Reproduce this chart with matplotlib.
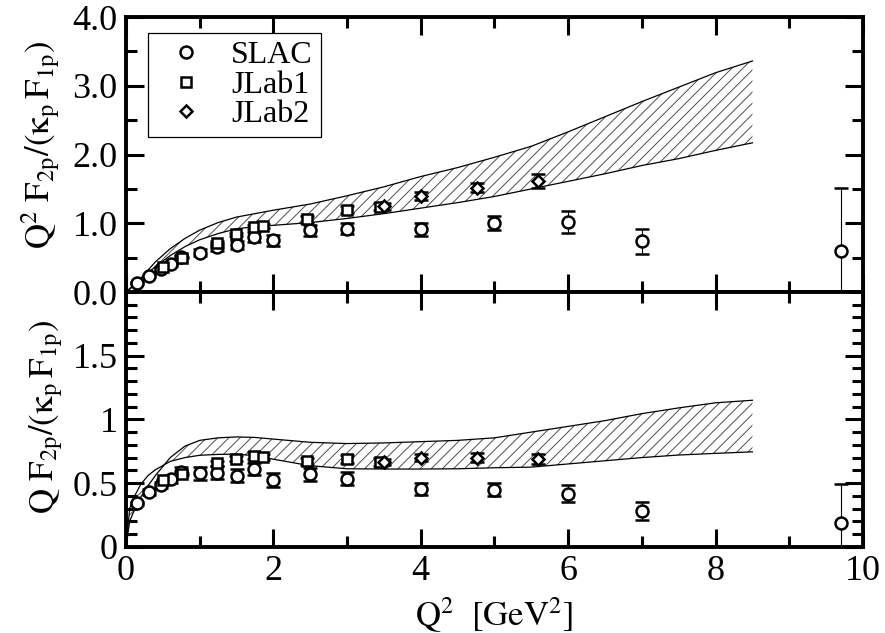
import numpy as np
import matplotlib
matplotlib.use("Agg")
import matplotlib.pyplot as plt
from matplotlib.lines import Line2D
from matplotlib.ticker import MultipleLocator, FixedFormatter, FixedLocator

plt.rcParams["font.family"] = ["Liberation Serif", "DejaVu Serif"]
plt.rcParams["mathtext.fontset"] = "stix"
plt.rcParams["hatch.linewidth"] = 0.7

# SLAC data
q2_slac = [0.15, 0.31, 0.47, 0.61, 0.75, 1.0, 1.24, 1.5, 1.74, 2.0, 2.5, 3.0, 4.0, 5.0, 6.0, 7.0, 9.7]
top_slac = [0.13, 0.23, 0.34, 0.41, 0.51, 0.57, 0.65, 0.68, 0.80, 0.75, 0.90, 0.92, 0.91, 1.00, 1.02, 0.74, 0.59]
top_slac_err = [0.01, 0.015, 0.02, 0.03, 0.035, 0.05, 0.06, 0.06, 0.07, 0.08, 0.08, 0.08, 0.09, 0.10, 0.165, 0.18, 0.92]
bot_slac = [0.34, 0.43, 0.485, 0.533, 0.585, 0.575, 0.582, 0.558, 0.61, 0.526, 0.568, 0.533, 0.455, 0.448, 0.416, 0.278, 0.19]
bot_slac_err = [0.01, 0.02, 0.025, 0.03, 0.04, 0.05, 0.05, 0.05, 0.05, 0.055, 0.05, 0.05, 0.045, 0.05, 0.065, 0.07, 0.30]

# JLab1 data
q2_jlab1 = [0.50, 0.76, 1.23, 1.49, 1.74, 1.86, 2.45, 3.0, 3.45]
top_jlab1 = [0.37, 0.50, 0.72, 0.84, 0.95, 0.96, 1.06, 1.20, 1.24]
top_jlab1_err = [0.01, 0.01, 0.02, 0.02, 0.03, 0.03, 0.05, 0.05, 0.05]
bot_jlab1 = [0.523, 0.572, 0.654, 0.69, 0.716, 0.703, 0.67, 0.69, 0.667]
bot_jlab1_err = [0.01, 0.01, 0.02, 0.02, 0.025, 0.025, 0.03, 0.03, 0.03]

# JLab2 data
q2_jlab2 = [3.5, 4.0, 4.76, 5.59]
top_jlab2 = [1.25, 1.40, 1.52, 1.62]
top_jlab2_err = [0.05, 0.06, 0.07, 0.10]
bot_jlab2 = [0.667, 0.70, 0.697, 0.687]
bot_jlab2_err = [0.025, 0.03, 0.035, 0.04]

# model band
q2_band = [0, 0.05, 0.1, 0.2, 0.3, 0.4, 0.6, 0.8, 1.0, 1.25, 1.5, 1.75, 2.0, 2.5,
           3.0, 3.5, 4.0, 4.5, 5.0, 5.5, 6.0, 6.5, 7.0, 7.5, 8.0, 8.5]
top_band_hi = [0, 0.04, 0.09, 0.2, 0.32, 0.44, 0.63, 0.78, 0.90, 1.01, 1.09, 1.14, 1.19, 1.28,
               1.40, 1.53, 1.68, 1.81, 1.96, 2.12, 2.33, 2.55, 2.77, 2.98, 3.19, 3.36]
top_band_lo = [0, 0.05, 0.1, 0.18, 0.28, 0.37, 0.53, 0.66, 0.76, 0.85, 0.92, 0.95, 0.97, 1.01,
               1.07, 1.14, 1.22, 1.30, 1.39, 1.50, 1.61, 1.72, 1.84, 1.94, 2.06, 2.17]
bot_band_hi = [0, 0.2, 0.27, 0.39, 0.48, 0.56, 0.70, 0.79, 0.835, 0.855, 0.862, 0.858, 0.845, 0.82,
               0.81, 0.815, 0.825, 0.835, 0.855, 0.90, 0.945, 0.99, 1.045, 1.09, 1.13, 1.15]
bot_band_lo = [0, 0.3, 0.38, 0.49, 0.56, 0.605, 0.67, 0.70, 0.718, 0.725, 0.727, 0.714, 0.687, 0.636,
               0.612, 0.61, 0.61, 0.612, 0.62, 0.625, 0.65, 0.675, 0.70, 0.72, 0.733, 0.745]

TICK_FS = 26
LABEL_FS = 25

fig = plt.figure(figsize=(8.85, 6.33), dpi=100)
ax_top = fig.add_axes([0.1424, 0.5387, 0.8327, 0.4344])
ax_bot = fig.add_axes([0.1424, 0.1363, 0.8327, 0.4024])

markers = [
    ("o", 8.6, q2_slac),
    ("s", 7.6, q2_jlab1),
    ("D", 6.6, q2_jlab2),
]


def draw_panel(ax, band_hi, band_lo, series):
    ax.fill_between(q2_band, band_lo, band_hi, facecolor="none", edgecolor="0.3",
                    hatch="///", linewidth=0, zorder=1)
    ax.plot(q2_band, band_hi, color="black", lw=0.9, zorder=2)
    ax.plot(q2_band, band_lo, color="black", lw=0.9, zorder=2)
    for (mk, ms, xs), (ys, es) in zip(markers, series):
        ax.errorbar(xs, ys, yerr=es, fmt=mk, ms=ms, mfc="white", mec="black", mew=1.8,
                    ecolor="black", elinewidth=0.8, capsize=5.2, capthick=0.8, zorder=3)
    ax.set_xlim(0, 10)
    ax.xaxis.set_major_locator(MultipleLocator(2))
    ax.xaxis.set_minor_locator(MultipleLocator(1))
    for side in ax.spines.values():
        side.set_linewidth(2.8)
    ax.tick_params(which="both", direction="in", top=True, right=True, width=2.2,
                   labelsize=TICK_FS, pad=6)
    ax.tick_params(which="major", length=13)
    ax.tick_params(which="minor", length=8)


draw_panel(ax_top, top_band_hi, top_band_lo,
           [(top_slac, top_slac_err), (top_jlab1, top_jlab1_err), (top_jlab2, top_jlab2_err)])
draw_panel(ax_bot, bot_band_hi, bot_band_lo,
           [(bot_slac, bot_slac_err), (bot_jlab1, bot_jlab1_err), (bot_jlab2, bot_jlab2_err)])

ax_top.set_ylim(0, 4)
ax_top.yaxis.set_major_locator(FixedLocator([0, 1, 2, 3, 4]))
ax_top.yaxis.set_major_formatter(FixedFormatter(["0.0", "1.0", "2.0", "3.0", "4.0"]))
ax_top.yaxis.set_minor_locator(MultipleLocator(0.5))
ax_top.tick_params(axis="x", labelbottom=False)

ax_bot.set_ylim(0, 2)
ax_bot.yaxis.set_major_locator(FixedLocator([0, 0.5, 1, 1.5]))
ax_bot.yaxis.set_major_formatter(FixedFormatter(["0", "0.5", "1", "1.5"]))
ax_bot.yaxis.set_minor_locator(MultipleLocator(0.1))

fig.text(0.046, 0.772, r"$\mathrm{Q^2\ F_{2p}/(\kappa_p\,F_{1p})}$", fontsize=LABEL_FS,
         rotation=90, ha="center", va="center")
fig.text(0.052, 0.342, r"$\mathrm{Q\ F_{2p}/(\kappa_p\,F_{1p})}$", fontsize=LABEL_FS,
         rotation=90, ha="center", va="center")
ax_bot.set_xlabel(r"$\mathrm{Q^2\ \ [GeV^2]}$", fontsize=LABEL_FS, labelpad=5)

handles = [Line2D([], [], ls="none", marker=mk, ms=ms, mfc="white", mec="black", mew=1.8)
           for mk, ms, _ in markers]
leg = ax_top.legend(handles, ["SLAC", "JLab1", "JLab2"], loc="upper left",
                    bbox_to_anchor=(0.030, 0.942), borderaxespad=0, fontsize=23,
                    frameon=True, fancybox=False, framealpha=1, edgecolor="black",
                    labelspacing=0.0, handletextpad=0.45, borderpad=0.25, handlelength=1.9)
leg.get_frame().set_linewidth(0.9)

fig.savefig("out.png", dpi=100)
